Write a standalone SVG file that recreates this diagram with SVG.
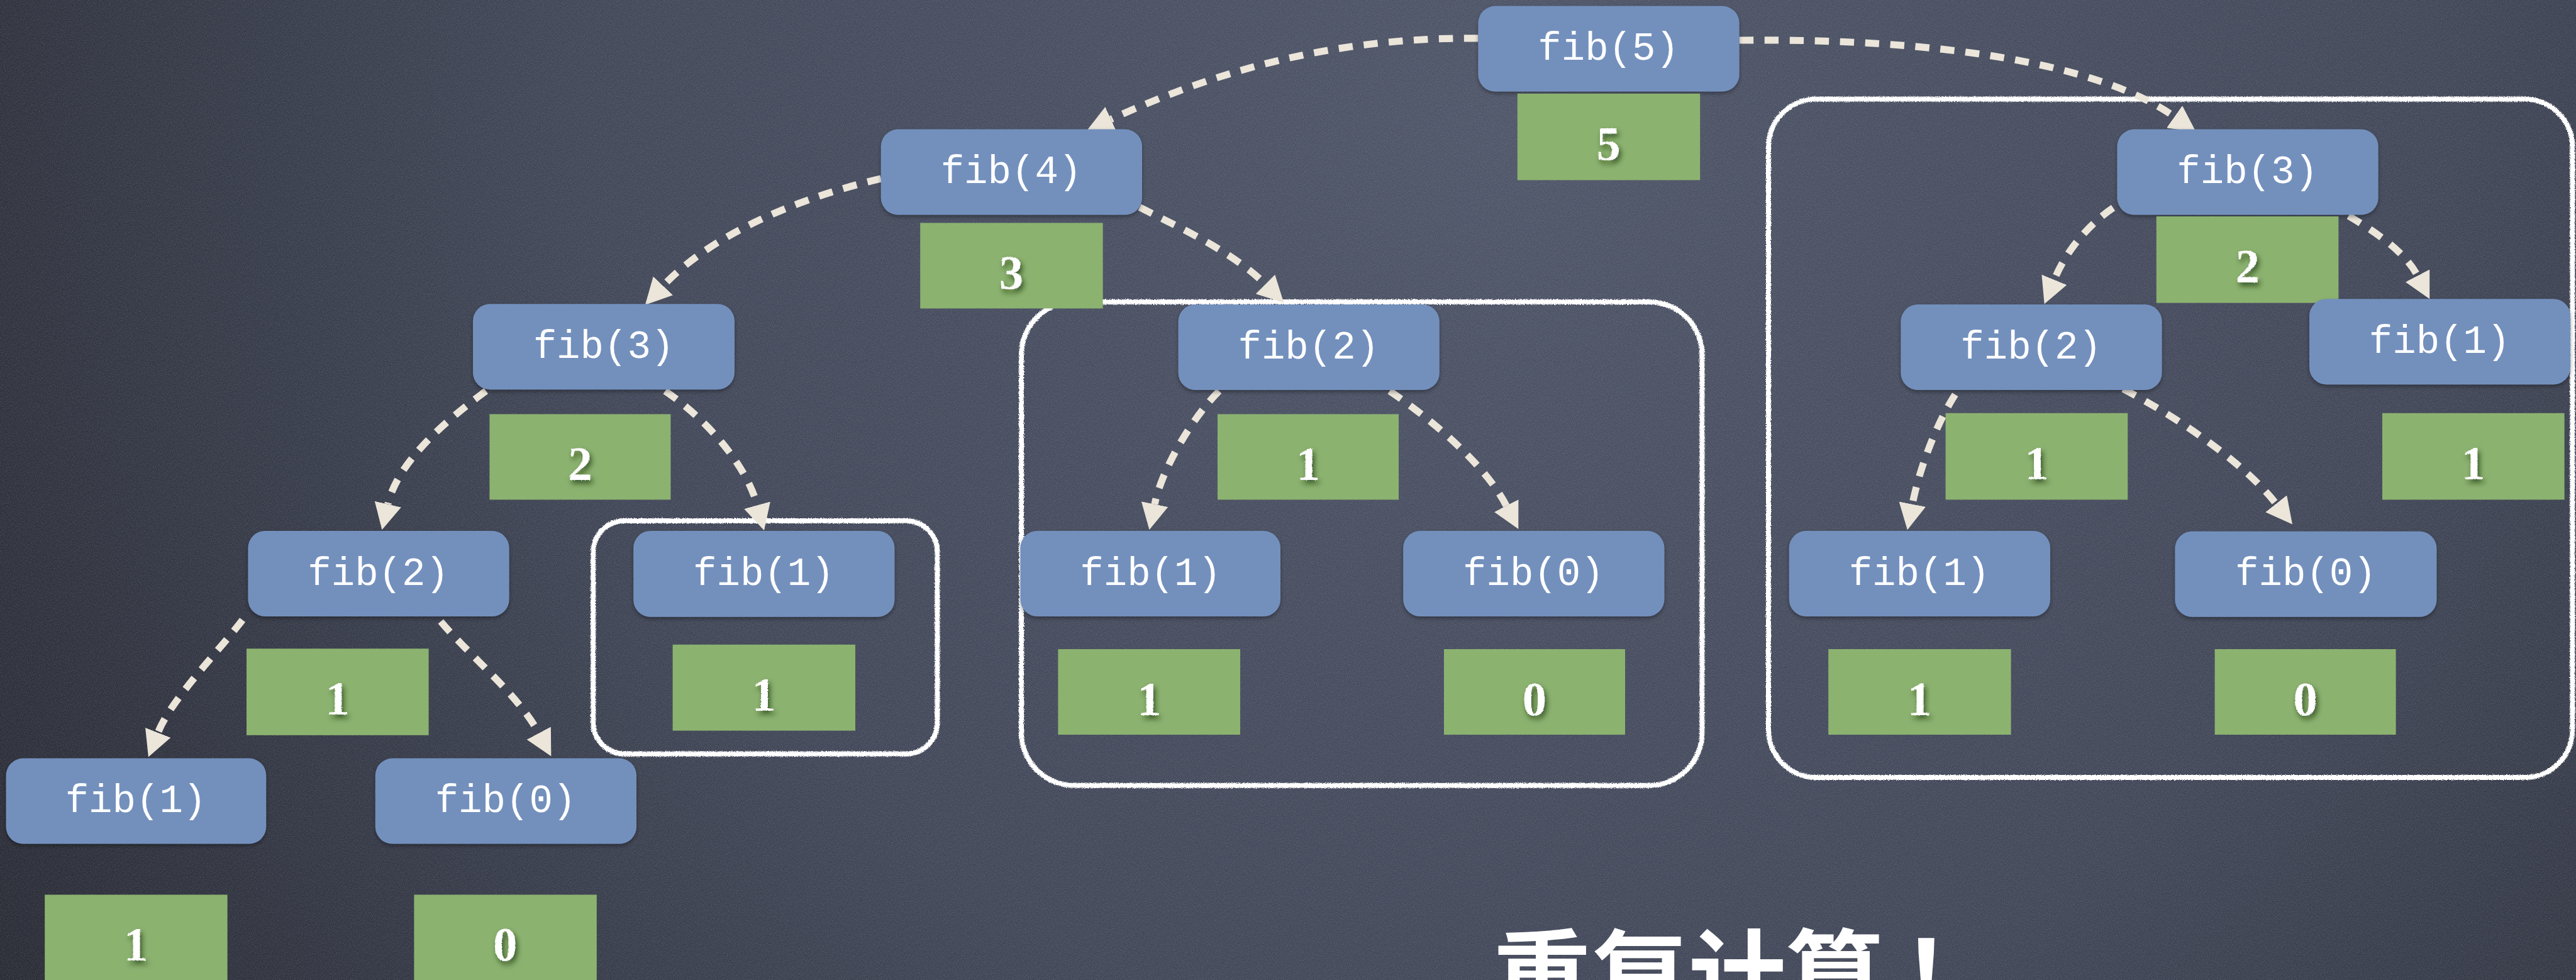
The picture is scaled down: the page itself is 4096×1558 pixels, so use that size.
<svg xmlns="http://www.w3.org/2000/svg" width="4096" height="1558" viewBox="0 0 4096 1558">
  <defs>
    <!-- slate chalkboard shading -->
    <radialGradient id="board" cx="3000" cy="250" r="3700" gradientUnits="userSpaceOnUse">
      <stop offset="0" stop-color="#4d5467"/>
      <stop offset="0.5" stop-color="#3f4556"/>
      <stop offset="1" stop-color="#22242c"/>
    </radialGradient>
    <!-- fine speckle of chalk dust -->
    <filter id="grain" x="0" y="0" width="100%" height="100%">
      <feTurbulence type="fractalNoise" baseFrequency="0.55" numOctaves="2" seed="7" result="n"/>
      <feColorMatrix in="n" type="matrix" values="0 0 0 0 0.85  0 0 0 0 0.87  0 0 0 0 0.92  0.3 0 0 0 -0.1"/>
    </filter>
    <!-- rough chalk stroke -->
    <filter id="rough" x="-3%" y="-3%" width="106%" height="106%">
      <feTurbulence type="fractalNoise" baseFrequency="0.9" numOctaves="2" seed="3" result="t"/>
      <feDisplacementMap in="SourceGraphic" in2="t" scale="6" xChannelSelector="R" yChannelSelector="G"/>
    </filter>
    <!-- card shadow -->
    <filter id="lift" x="-5%" y="-10%" width="110%" height="125%">
      <feDropShadow dx="0" dy="4" stdDeviation="4" flood-color="#000" flood-opacity="0.35"/>
    </filter>
    <!-- chalk digit with soft shadow -->
    <filter id="chalkDigit" x="-40%" y="-30%" width="180%" height="170%">
      <feTurbulence type="fractalNoise" baseFrequency="1.1" numOctaves="1" seed="5" result="t"/>
      <feDisplacementMap in="SourceGraphic" in2="t" scale="4" xChannelSelector="R" yChannelSelector="G" result="d"/>
      <feDropShadow in="d" dx="4" dy="7" stdDeviation="5" flood-color="#1d3512" flood-opacity="0.75"/>
    </filter>
    <marker id="head" viewBox="0 -27 52 54" refX="0" refY="0" markerWidth="52" markerHeight="54" markerUnits="userSpaceOnUse" orient="auto">
      <path d="M0,-27 L52,0 L0,27 Z" fill="#ebe5da"/>
    </marker>
    <style>
      .call { fill: #7390bd; filter: url(#lift); }
      .memo { fill: #8cb270; }
      .lbl { font-family: "Liberation Mono", "Courier New", monospace; font-size: 78px; fill: #ffffff; text-anchor: middle; }
      .val { font-family: "Liberation Serif", "Times New Roman", serif; font-weight: bold; font-size: 96px; fill: #ffffff; text-anchor: middle; filter: url(#chalkDigit); }
      .loop { fill: none; stroke: #ffffff; stroke-width: 10; filter: url(#rough); }
      .edge { fill: none; stroke: #ebe5da; stroke-width: 14; stroke-dasharray: 28 22; marker-end: url(#head); }
      .note { font-family: "Noto Sans CJK SC", "Noto Sans CJK JP", sans-serif; font-weight: bold; font-size: 194px; fill: #ffffff; }
    </style>
  </defs>

  <g transform="scale(0.8)">
    <!-- board -->
    <rect x="0" y="0" width="5120" height="1948" fill="url(#board)"/>
    <rect x="0" y="0" width="5120" height="1948" filter="url(#grain)"/>

    <!-- chalk outlines around repeated sub-trees -->
    <g id="outlines">
      <rect class="loop" x="1179" y="1035" width="684" height="463" rx="62"/>
      <rect class="loop" x="2030" y="600" width="1353" height="961" rx="105"/>
      <rect class="loop" x="3515" y="197" width="1598" height="1348" rx="95"/>
    </g>

    <!-- recursive calls -->
    <g id="edges">
      <path class="edge" d="M2938,76 C2650,74 2420,140 2208,237"/>
      <path class="edge" d="M3457,80 C3850,76 4170,125 4322,232"/>
      <path class="edge" d="M1751,355 C1600,390 1420,460 1318,568"/>
      <path class="edge" d="M2265,412 C2340,450 2450,500 2515,565"/>
      <path class="edge" d="M966,777 C880,840 790,920 771,1002"/>
      <path class="edge" d="M1322,777 C1400,830 1482,920 1505,1004"/>
      <path class="edge" d="M482,1232 C430,1300 340,1390 314,1456"/>
      <path class="edge" d="M876,1235 C930,1300 1030,1380 1071,1457"/>
      <path class="edge" d="M2423,777 C2370,830 2310,930 2295,1002"/>
      <path class="edge" d="M2762,777 C2840,830 2950,920 2994,1005"/>
      <path class="edge" d="M4200,413 C4160,440 4110,490 4083,556"/>
      <path class="edge" d="M4668,429 C4720,460 4780,500 4805,548"/>
      <path class="edge" d="M3886,784 C3850,840 3815,930 3801,1002"/>
      <path class="edge" d="M4220,773 C4330,830 4460,920 4524,1001"/>
    </g>

    <!-- call cards with returned values -->
    <g id="n-fib5">
      <rect class="call" x="2938" y="12" width="519" height="170" rx="34"/>
      <text class="lbl" x="3197" y="119">fib(5)</text>
      <rect class="memo" x="3016" y="186" width="363" height="172"/>
      <text class="val" x="3197" y="317">5</text>
    </g>
    <g id="n-fib4">
      <rect class="call" x="1751" y="257" width="519" height="170" rx="34"/>
      <text class="lbl" x="2010" y="364">fib(4)</text>
      <rect class="memo" x="1829" y="443" width="363" height="170"/>
      <text class="val" x="2010" y="574">3</text>
    </g>
    <g id="n-fib3-right">
      <rect class="call" x="4208" y="257" width="519" height="170" rx="34"/>
      <text class="lbl" x="4467" y="364">fib(3)</text>
      <rect class="memo" x="4286" y="430" width="362" height="172"/>
      <text class="val" x="4467" y="561">2</text>
    </g>
    <g id="n-fib3-left">
      <rect class="call" x="940" y="604" width="520" height="170" rx="34"/>
      <text class="lbl" x="1200" y="711">fib(3)</text>
      <rect class="memo" x="973" y="823" width="360" height="170"/>
      <text class="val" x="1153" y="954">2</text>
    </g>
    <g id="n-fib2-mid">
      <rect class="call" x="2342" y="605" width="519" height="170" rx="34"/>
      <text class="lbl" x="2601" y="712">fib(2)</text>
      <rect class="memo" x="2420" y="823" width="360" height="170"/>
      <text class="val" x="2600" y="954">1</text>
    </g>
    <g id="n-fib2-right">
      <rect class="call" x="3778" y="605" width="519" height="170" rx="34"/>
      <text class="lbl" x="4037" y="712">fib(2)</text>
      <rect class="memo" x="3867" y="821" width="362" height="172"/>
      <text class="val" x="4048" y="952">1</text>
    </g>
    <g id="n-fib1-right">
      <rect class="call" x="4590" y="594" width="519" height="170" rx="34"/>
      <text class="lbl" x="4849" y="701">fib(1)</text>
      <rect class="memo" x="4735" y="821" width="362" height="172"/>
      <text class="val" x="4916" y="952">1</text>
    </g>
    <g id="n-fib2-left">
      <rect class="call" x="493" y="1055" width="519" height="170" rx="34"/>
      <text class="lbl" x="752" y="1162">fib(2)</text>
      <rect class="memo" x="490" y="1289" width="362" height="172"/>
      <text class="val" x="671" y="1420">1</text>
    </g>
    <g id="n-fib1-boxed">
      <rect class="call" x="1259" y="1055" width="519" height="171" rx="34"/>
      <text class="lbl" x="1518" y="1162">fib(1)</text>
      <rect class="memo" x="1337" y="1281" width="363" height="171"/>
      <text class="val" x="1518" y="1412">1</text>
    </g>
    <g id="n-fib1-mid">
      <rect class="call" x="2028" y="1055" width="517" height="170" rx="34"/>
      <text class="lbl" x="2287" y="1162">fib(1)</text>
      <rect class="memo" x="2103" y="1290" width="362" height="170"/>
      <text class="val" x="2284" y="1421">1</text>
    </g>
    <g id="n-fib0-mid">
      <rect class="call" x="2789" y="1055" width="519" height="170" rx="34"/>
      <text class="lbl" x="3048" y="1162">fib(0)</text>
      <rect class="memo" x="2870" y="1290" width="360" height="170"/>
      <text class="val" x="3050" y="1421">0</text>
    </g>
    <g id="n-fib1-right2">
      <rect class="call" x="3556" y="1055" width="519" height="170" rx="34"/>
      <text class="lbl" x="3815" y="1162">fib(1)</text>
      <rect class="memo" x="3634" y="1290" width="363" height="170"/>
      <text class="val" x="3815" y="1421">1</text>
    </g>
    <g id="n-fib0-right">
      <rect class="call" x="4323" y="1056" width="520" height="170" rx="34"/>
      <text class="lbl" x="4583" y="1163">fib(0)</text>
      <rect class="memo" x="4402" y="1290" width="360" height="170"/>
      <text class="val" x="4582" y="1421">0</text>
    </g>
    <g id="n-fib1-low">
      <rect class="call" x="12" y="1507" width="517" height="170" rx="34"/>
      <text class="lbl" x="270" y="1614">fib(1)</text>
      <rect class="memo" x="89" y="1778" width="363" height="200"/>
      <text class="val" x="270" y="1909">1</text>
    </g>
    <g id="n-fib0-low">
      <rect class="call" x="746" y="1507" width="519" height="170" rx="34"/>
      <text class="lbl" x="1005" y="1614">fib(0)</text>
      <rect class="memo" x="823" y="1778" width="363" height="200"/>
      <text class="val" x="1004" y="1909">0</text>
    </g>

    <text class="note" x="2968" y="2010">重复计算<tspan dx="36">！</tspan></text>
  </g>
</svg>
